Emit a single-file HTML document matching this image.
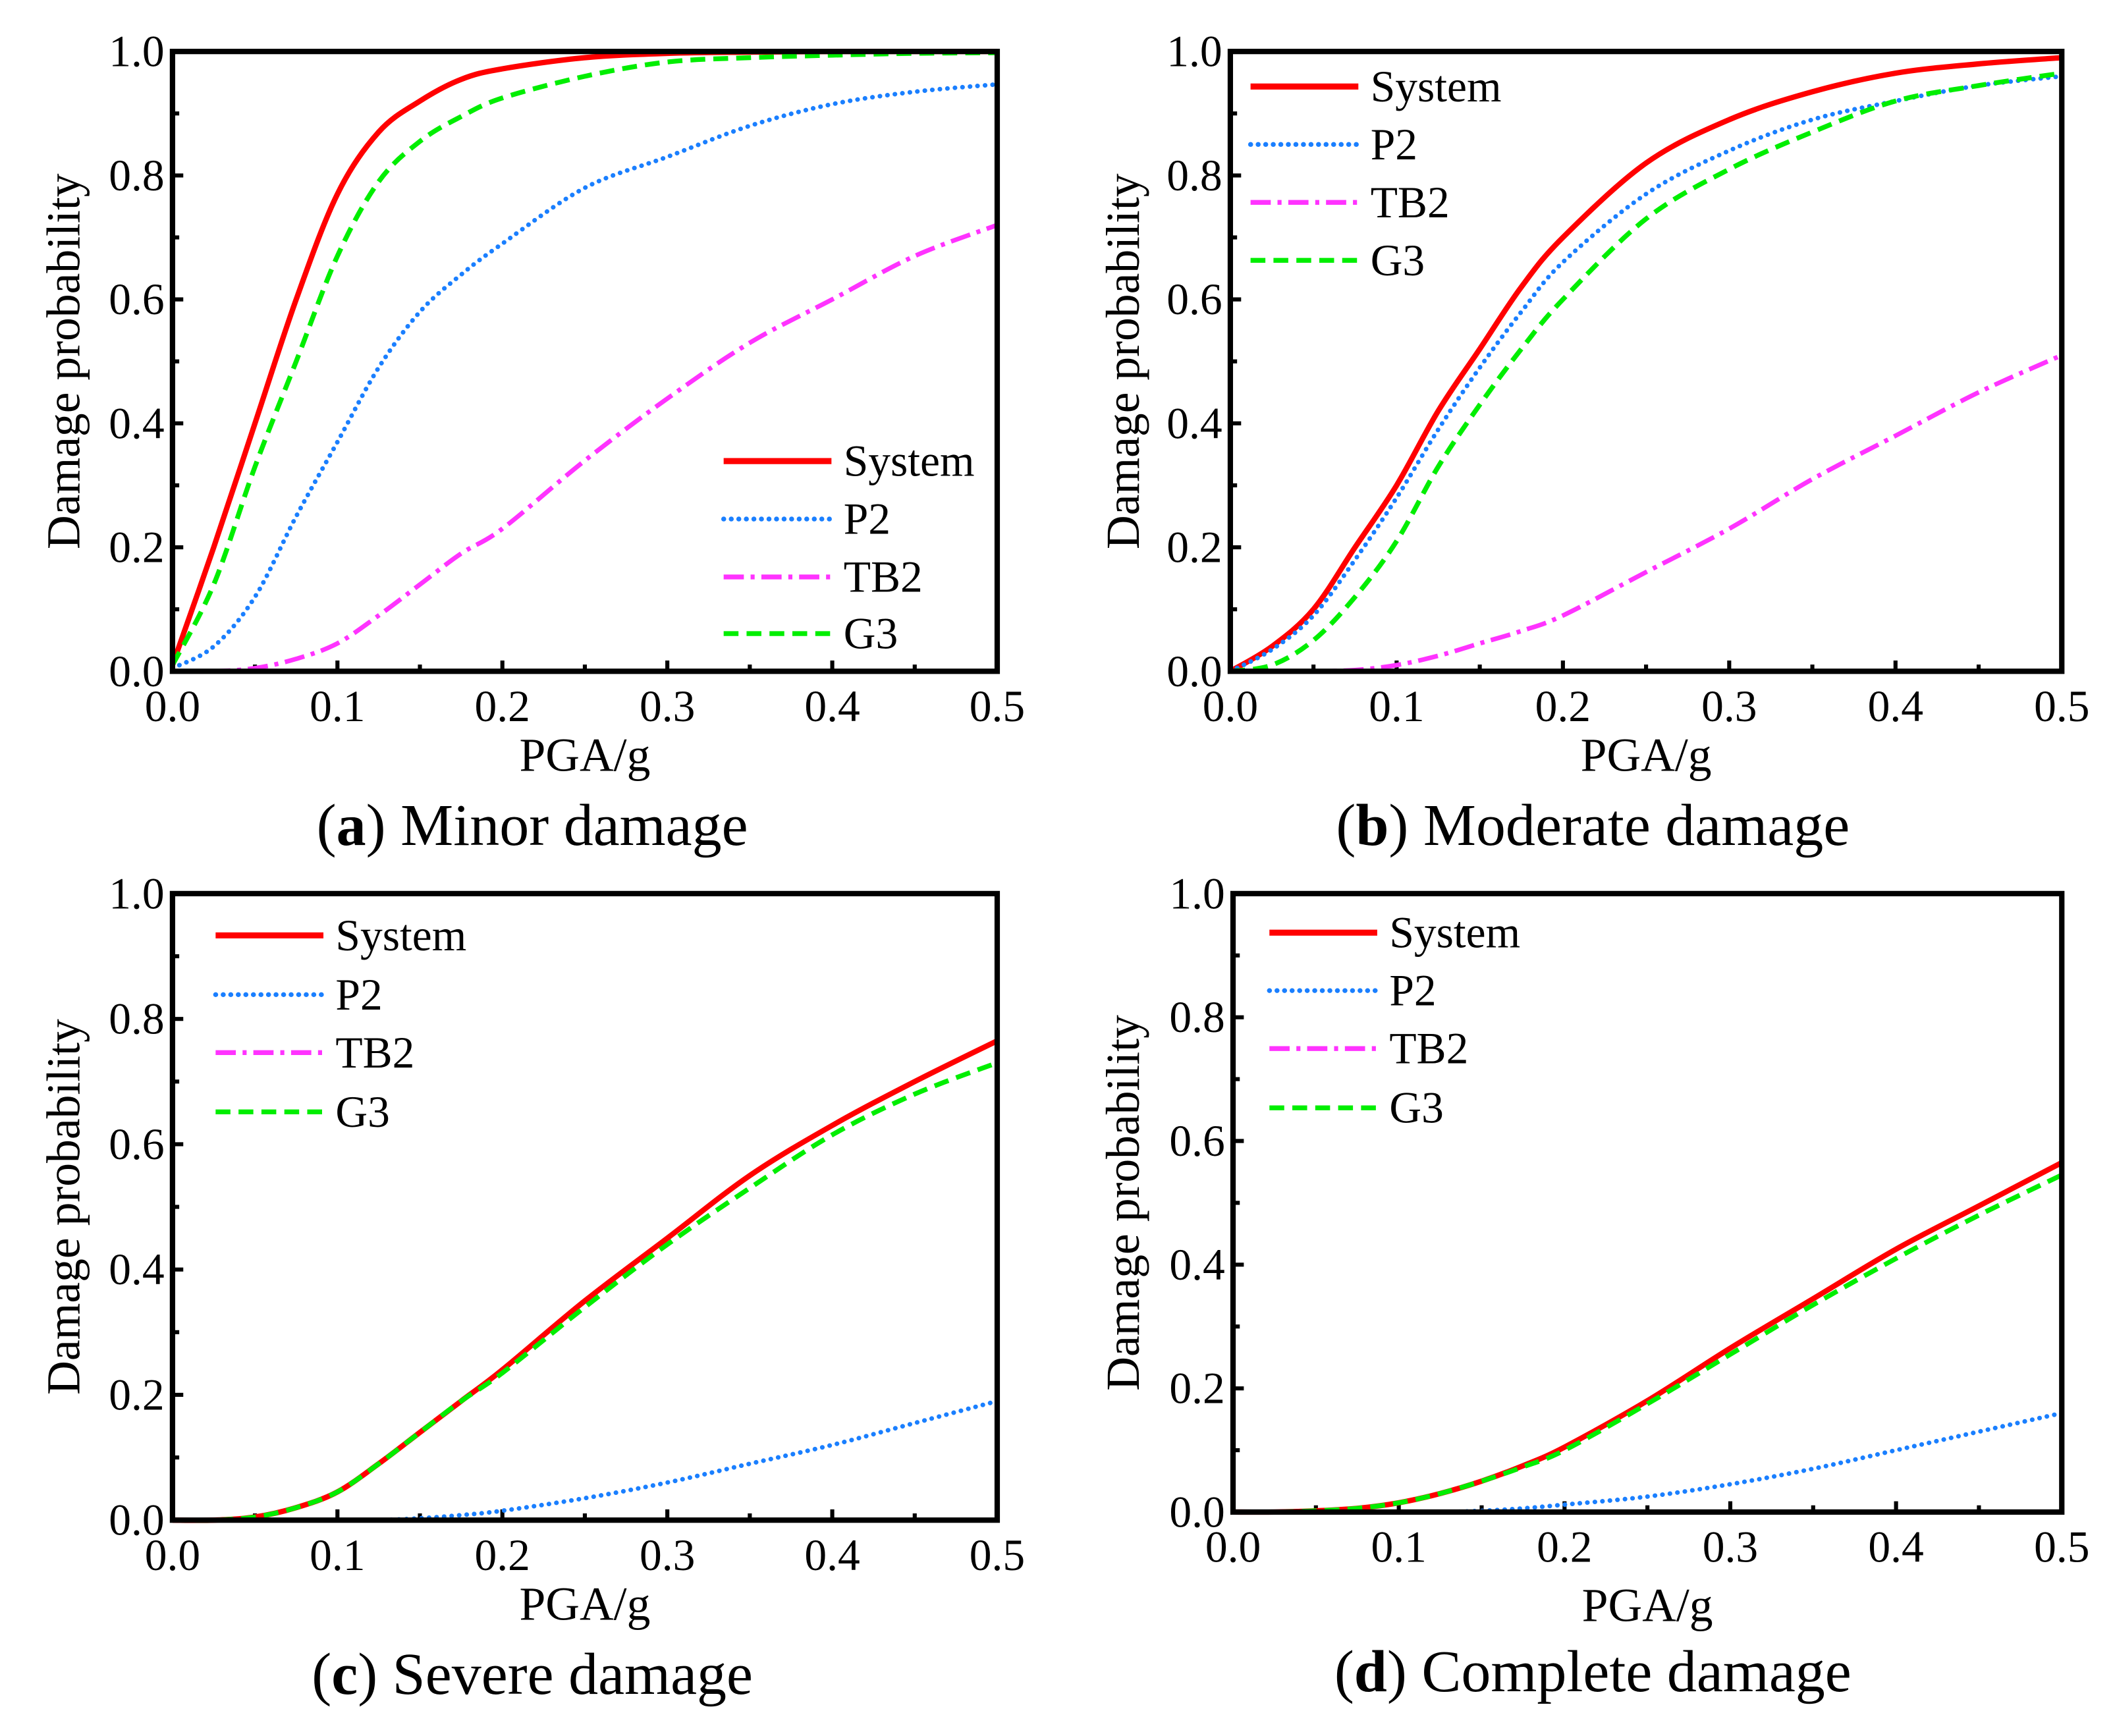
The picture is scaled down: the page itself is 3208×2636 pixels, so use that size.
<!DOCTYPE html>
<html><head><meta charset="utf-8"><style>
html,body{margin:0;padding:0;background:#fff;}
svg{display:block;font-family:"Liberation Serif",serif;}
</style></head><body>
<svg id="fig" xmlns="http://www.w3.org/2000/svg" width="3208" height="2636" viewBox="0 0 1568 1288">
<rect width="1568" height="1288" fill="#fff"/>
</svg>
<script>
const pgaValues = [0,0.025,0.05,0.075,0.1,0.125,0.15,0.175,0.2,0.25,0.3,0.35,0.4,0.45,0.5];
const xTickLabels = ["0.0","0.1","0.2","0.3","0.4","0.5"];
const yTickLabels = ["0.0","0.2","0.4","0.6","0.8","1.0"];
const seriesNames = ["System","P2","TB2","G3"];
// (a) Minor damage
const minorSystem = [0.01,0.2,0.40,0.60,0.77,0.87,0.92,0.955,0.972,0.99,0.997,0.999,1,1,1];
const minorP2 = [0.005,0.04,0.12,0.25,0.37,0.49,0.58,0.64,0.69,0.78,0.83,0.88,0.915,0.935,0.947];
const minorTB2 = [0,0,0.005,0.02,0.045,0.09,0.14,0.19,0.23,0.34,0.44,0.53,0.60,0.67,0.72];
const minorG3 = [0.01,0.14,0.33,0.50,0.67,0.79,0.855,0.895,0.925,0.96,0.983,0.99,0.994,0.997,0.998];
// (b) Moderate damage
const moderateSystem = [0,0.04,0.1,0.2,0.3,0.42,0.52,0.62,0.7,0.82,0.89,0.935,0.965,0.98,0.99];
const moderateP2 = [0,0.035,0.09,0.18,0.28,0.39,0.49,0.58,0.66,0.77,0.84,0.89,0.92,0.945,0.96];
const moderateTB2 = [0,0,0,0.002,0.01,0.025,0.045,0.065,0.09,0.16,0.23,0.31,0.38,0.45,0.51];
const moderateG3 = [0,0.01,0.05,0.12,0.21,0.33,0.43,0.52,0.6,0.73,0.81,0.87,0.92,0.945,0.965];
// (c) Severe damage
const severeSystem = [0,0,0.005,0.02,0.045,0.09,0.14,0.19,0.24,0.35,0.45,0.55,0.63,0.70,0.765];
const severeP2 = [0,0,0,0,0,0,0.003,0.008,0.015,0.035,0.06,0.09,0.12,0.155,0.19];
const severeTB2 = [0,0,0,0,0,0,0,0,0,0,0,0,0,0,0];
const severeG3 = [0,0,0.005,0.02,0.045,0.09,0.14,0.19,0.235,0.34,0.44,0.53,0.615,0.68,0.73];
// (d) Complete damage
const completeSystem = [0,0,0.002,0.006,0.015,0.03,0.05,0.075,0.105,0.18,0.265,0.345,0.425,0.495,0.565];
const completeP2 = [0,0,0,0,0,0,0.002,0.006,0.012,0.025,0.045,0.07,0.1,0.13,0.16];
const completeTB2 = [0,0,0,0,0,0,0,0,0,0,0,0,0,0,0];
const completeG3 = [0,0,0.002,0.006,0.015,0.03,0.05,0.073,0.1,0.175,0.255,0.335,0.41,0.48,0.545];

const NS="http://www.w3.org/2000/svg";
const svg=document.getElementById('fig');
function mk(tag,attrs,parent){const e=document.createElementNS(NS,tag);for(const k in attrs)e.setAttribute(k,attrs[k]);(parent||svg).appendChild(e);return e;}
function smoothPath(pts){
 let d='M'+pts[0][0].toFixed(2)+' '+pts[0][1].toFixed(2);
 for(let i=0;i<pts.length-1;i++){
  const p0=pts[i-1]||pts[i],p1=pts[i],p2=pts[i+1],p3=pts[i+2]||p2;
  const c1x=p1[0]+(p2[0]-p0[0])/6,c1y=p1[1]+(p2[1]-p0[1])/6;
  const c2x=p2[0]-(p3[0]-p1[0])/6,c2y=p2[1]-(p3[1]-p1[1])/6;
  d+=` C${c1x.toFixed(2)} ${c1y.toFixed(2)} ${c2x.toFixed(2)} ${c2y.toFixed(2)} ${p2[0].toFixed(2)} ${p2[1].toFixed(2)}`;
 }
 return d;
}
const styles=[
 {color:"#ff0000",w:4,dash:"",cap:"butt"},
 {color:"#1a7fff",w:3.4,dash:"0.1 5.5",cap:"round"},
 {color:"#ff33ff",w:3.4,dash:"15 5 3 5",cap:"butt"},
 {color:"#00ee00",w:3.6,dash:"11 6",cap:"butt"}
];
const panels=[
 {id:"a",title:"Minor damage",L:128,R:740,T:38,B:498,data:[minorSystem,minorP2,minorTB2,minorG3],lx:537,ly:[342,385,428,470],capX:395,ylX:48,tk:37,pg:74,cp:129},
 {id:"b",title:"Moderate damage",L:913,R:1530,T:38,B:498,data:[moderateSystem,moderateP2,moderateTB2,moderateG3],lx:928,ly:[64,107,150,193],capX:1182,ylX:834,tk:37,pg:74,cp:129},
 {id:"c",title:"Severe damage",L:128,R:740,T:663,B:1128,data:[severeSystem,severeP2,severeTB2,severeG3],lx:160,ly:[694,738,781,825],capX:395,ylX:48,tk:37,pg:74,cp:129},
 {id:"d",title:"Complete damage",L:915,R:1530,T:663,B:1122,data:[completeSystem,completeP2,completeTB2,completeG3],lx:942,ly:[692,735,778,822],capX:1182,ylX:834,tk:37,pg:81,cp:133}
];
panels.forEach(p=>{
 p.tickY=p.B+p.tk; p.pgaY=p.B+p.pg; p.capY=p.B+p.cp;
 const g=mk('g',{});
 
 
 const xs=v=>p.L+(v/0.5)*(p.R-p.L);
 const ys=v=>p.B-v*(p.B-p.T);
 for(let i=0;i<=10;i++){const v=i*0.05;const x=xs(v);const len=i%2===0?8:5;
  const t=mk('line',{x1:x,x2:x,y1:p.B,y2:p.B-len,stroke:"#000","stroke-width":3},g);
  
  }
 for(let i=0;i<=10;i++){const v=i*0.1;const y=ys(v);const len=i%2===0?8:5;
  const t=mk('line',{x1:p.L,x2:p.L+len,y1:y,y2:y,stroke:"#000","stroke-width":3},g);
  
  }
 xTickLabels.forEach((lab,i)=>{const t=mk('text',{x:xs(i*0.1),y:p.tickY,"text-anchor":"middle","font-size":33},g);t.textContent=lab;
  
  });
 yTickLabels.forEach((lab,i)=>{const t=mk('text',{x:p.L-6,y:ys(i*0.2)+11,"text-anchor":"end","font-size":33},g);t.textContent=lab;
  
  });
 p.data.forEach((arr,si)=>{const s=styles[si];
  const pts=arr.map((v,i)=>[xs(pgaValues[i]),ys(v)]);
  const path=mk('path',{d:smoothPath(pts),fill:"none",stroke:s.color,"stroke-width":s.w,"stroke-dasharray":s.dash,"stroke-linecap":s.cap,"stroke-linejoin":"round"},g);
  
  });
 const fr=mk('rect',{x:p.L,y:p.T,width:p.R-p.L,height:p.B-p.T,fill:"none",stroke:"#000","stroke-width":4},g);
 
 
 seriesNames.forEach((n,si)=>{const s=styles[si];const y=p.ly[si];
  const l=mk('line',{x1:p.lx,x2:p.lx+80,y1:y,y2:y,stroke:s.color,"stroke-width":si===0?4.5:3.6,"stroke-dasharray":s.dash,"stroke-linecap":s.cap},g);
  
  
  const t=mk('text',{x:p.lx+89,y:y+11,"font-size":33},g);t.textContent=n;
  
  });
 const xt=mk('text',{x:(p.L+p.R)/2,y:p.pgaY,"text-anchor":"middle","font-size":35},g);xt.textContent="PGA/g";
 
 
 const cy=(p.T+p.B)/2;
 const yt=mk('text',{x:p.ylX,y:cy,"text-anchor":"middle","font-size":35,transform:`rotate(-90 ${p.ylX} ${cy})`,dy:11},g);yt.textContent="Damage probability";
 
 
 const cap=mk('text',{x:p.capX,y:p.capY,"text-anchor":"middle","font-size":44},g);
 cap.innerHTML='(<tspan font-weight="bold">'+p.id+'</tspan>) '+p.title;
 
 
});
</script>
</body></html>
